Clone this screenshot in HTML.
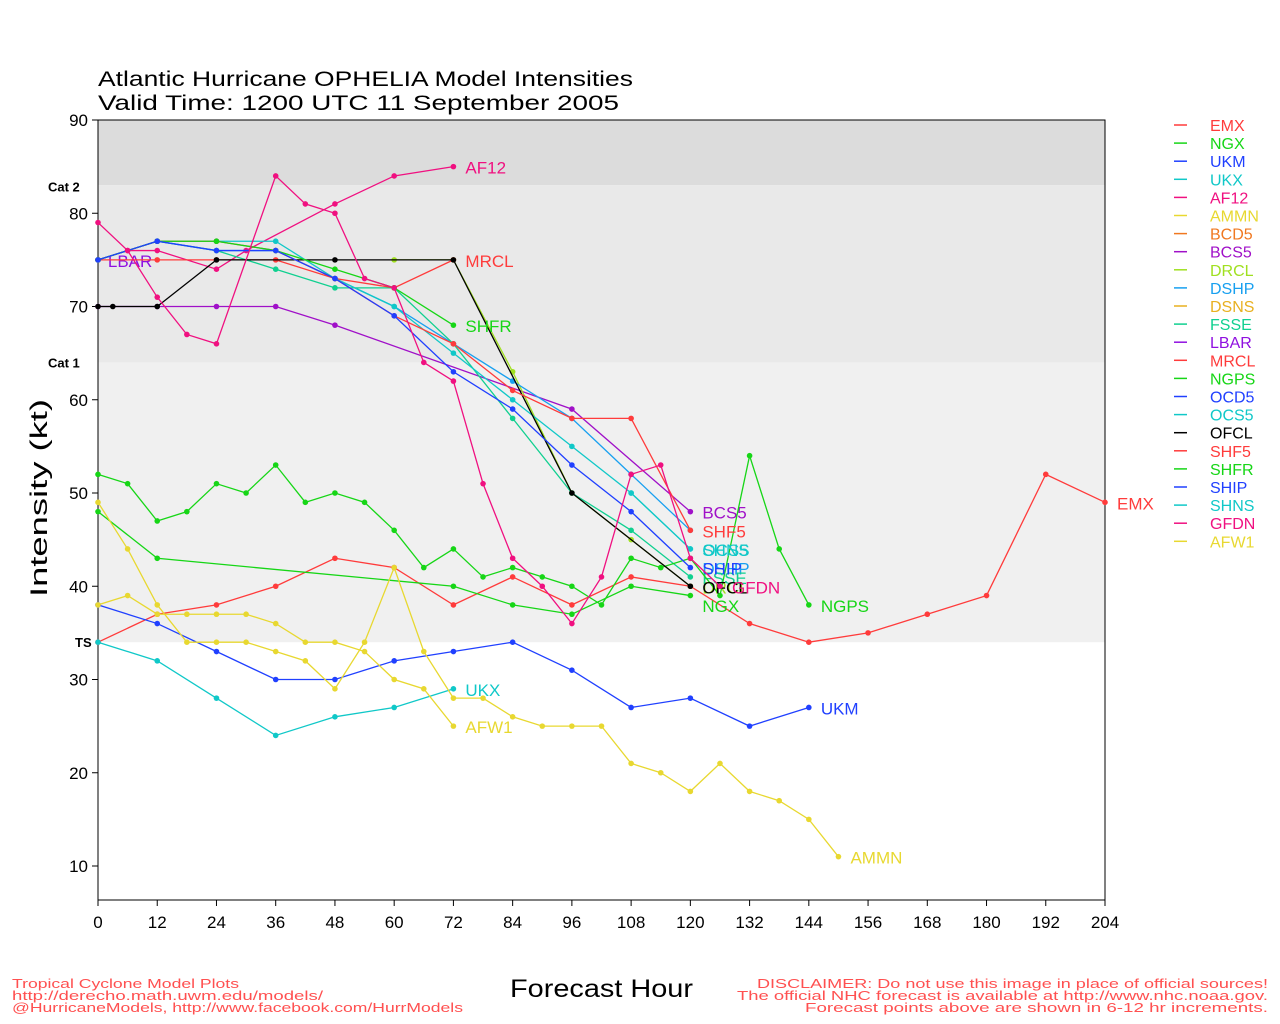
<!DOCTYPE html>
<html><head><meta charset="utf-8">
<style>body{margin:0;background:#fff}svg{display:block}text{font-family:"Liberation Sans",sans-serif}</style>
</head><body>
<svg id="s" width="1280" height="1024" xmlns="http://www.w3.org/2000/svg"></svg>
<script>
const X=h=>98+h*1007/204, Y=v=>120+(90-v)*9.325;
let o='';
o+=`<rect x="98" y="120" width="1007" height="${Y(83)-120}" fill="#dcdcdc"/>`;
o+=`<rect x="98" y="${Y(83)}" width="1007" height="${Y(64)-Y(83)}" fill="#e9e9e9"/>`;
o+=`<rect x="98" y="${Y(64)}" width="1007" height="${Y(34)-Y(64)}" fill="#f0f0f0"/>`;
o+=`<rect x="98" y="120" width="1007" height="780" fill="none" stroke="#000" stroke-width="1"/>`;
for(let v=10;v<=90;v+=10){o+=`<line x1="92" x2="98" y1="${Y(v)}" y2="${Y(v)}" stroke="#000"/><text x="88" y="${Y(v)+6}" font-size="17" text-anchor="end">${v}</text>`;}
for(let h=0;h<=204;h+=12){o+=`<line x1="${X(h)}" x2="${X(h)}" y1="900" y2="906" stroke="#000"/><text x="${X(h)}" y="928" font-size="17" text-anchor="middle">${h}</text>`;}
o+=`<text x="48" y="${Y(83)+6}" font-size="13" font-weight="bold">Cat 2</text><text x="48" y="${Y(64)+5}" font-size="13" font-weight="bold">Cat 1</text><text x="75" y="${Y(34)+5}" font-size="13" font-weight="bold">TS</text>`;
o+=`<text x="98" y="86" font-size="21" textLength="535" lengthAdjust="spacingAndGlyphs">Atlantic Hurricane OPHELIA Model Intensities</text><text x="98" y="110" font-size="21" textLength="521" lengthAdjust="spacingAndGlyphs">Valid Time: 1200 UTC 11 September 2005</text>`;
o+=`<text transform="translate(47,498) rotate(-90)" font-size="24" text-anchor="middle" textLength="198" lengthAdjust="spacingAndGlyphs">Intensity (kt)</text>`;
o+=`<text x="510" y="997" font-size="25" textLength="183" lengthAdjust="spacingAndGlyphs">Forecast Hour</text>`;
const S=[
['EMX','#ff3b3b',[[0,34],[12,37],[24,38],[36,40],[48,43],[60,42],[72,38],[84,41],[96,38],[108,41],[120,40],[132,36],[144,34],[156,35],[168,37],[180,39],[192,52],[204,49]]],
['NGX','#16d616',[[0,48],[12,43],[72,40],[84,38],[96,37],[108,40],[120,39]],[120,38]],
['UKM','#2040ff',[[0,38],[12,36],[24,33],[36,30],[48,30],[60,32],[72,33],[84,34],[96,31],[108,27],[120,28],[132,25],[144,27]]],
['UKX','#10c8c8',[[0,34],[12,32],[24,28],[36,24],[48,26],[60,27],[72,29]]],
['AF12','#f01080',[[6,76],[12,76],[24,74],[30,76],[48,81],[60,84],[72,85]]],
['AMMN','#e8d830',[[0,49],[6,44],[12,38],[18,34],[24,34],[30,34],[36,33],[42,32],[48,29],[54,34],[60,42],[66,33],[72,28],[78,28],[84,26],[90,25],[96,25],[102,25],[108,21],[114,20],[120,18],[126,21],[132,18],[138,17],[144,15],[150,11]]],
['BCD5','#f07820',[]],
['BCS5','#a010c8',[[0,70],[12,70],[24,70],[36,70],[48,68],[96,59],[120,48]]],
['DRCL','#a0e020',[[60,75],[72,75],[84,63],[96,50],[108,45],[120,40]]],
['DSHP','#18a0f0',[[0,75],[12,77],[24,76],[36,76],[48,73],[60,70],[72,66],[84,62],[96,58],[108,52],[120,46]],[120,42]],
['DSNS','#e8b020',[]],
['FSSE','#10d090',[[0,75],[12,77],[24,76],[36,74],[48,72],[60,72],[72,66],[84,58],[96,50],[108,46],[120,41]]],
['LBAR','#9010e0',[[0,75]]],
['MRCL','#ff3b3b',[[0,75],[12,75],[24,75],[36,75],[48,73],[60,72],[72,75]]],
['NGPS','#16d616',[[0,52],[6,51],[12,47],[18,48],[24,51],[30,50],[36,53],[42,49],[48,50],[54,49],[60,46],[66,42],[72,44],[78,41],[84,42],[90,41],[96,40],[102,38],[108,43],[114,42],[120,43],[126,39],[132,54],[138,44],[144,38]]],
['OCD5','#2040ff',[]],
['OCS5','#10c8c8',[[0,75],[12,77],[24,77],[36,77],[48,73],[60,70],[72,65],[84,60],[96,55],[108,50],[120,44]]],
['OFCL','#000000',[[0,70],[3,70],[12,70],[24,75],[48,75],[72,75],[96,50],[120,40]]],
['SHF5','#ff3b3b',[[0,75],[12,77],[24,77],[36,76],[48,73],[60,69],[72,66],[84,61],[96,58],[108,58],[120,46]]],
['SHFR','#16d616',[[0,75],[12,77],[24,77],[36,76],[48,74],[60,72],[72,68]]],
['SHIP','#2040ff',[[0,75],[12,77],[24,76],[36,76],[48,73],[60,69],[72,63],[84,59],[96,53],[108,48],[120,42]]],
['SHNS','#10c8c8',[[108,50],[120,44]]],
['GFDN','#f01080',[[0,79],[6,76],[12,71],[18,67],[24,66],[36,84],[42,81],[48,80],[54,73],[60,72],[66,64],[72,62],[78,51],[84,43],[90,40],[96,36],[102,41],[108,52],[114,53],[120,43],[126,40]]],
['AFW1','#e8d830',[[0,38],[6,39],[12,37],[18,37],[24,37],[30,37],[36,36],[42,34],[48,34],[54,33],[60,30],[66,29],[72,25]]]
];
S.forEach((s,i)=>{const [n,c,p,lp]=s;
 if(p.length>1)o+=`<polyline fill="none" stroke="${c}" stroke-width="1.3" points="${p.map(q=>X(q[0])+','+Y(q[1])).join(' ')}"/>`;
 p.forEach(q=>o+=`<circle cx="${X(q[0])}" cy="${Y(q[1])}" r="2.8" fill="${c}"/>`);
 if(p.length){const l=lp||p[p.length-1];const lx=n=='LBAR'?X(2):X(l[0])+12;o+=`<text x="${lx}" y="${Y(l[1])+7}" font-size="17" fill="${c}">${n}</text>`;}
 const ly=125+i*18.1;o+=`<line x1="1174" x2="1187" y1="${ly}" y2="${ly}" stroke="${c}" stroke-width="1.5"/><text x="1210" y="${ly+6}" font-size="16" fill="${c}">${n}</text>`;
});
const ta=(x,y,t,w,a)=>`<text x="${x}" y="${y}" textLength="${w}" lengthAdjust="spacingAndGlyphs">${t}</text>`;
o+=`<g font-size="13" fill="#ff5050">`+ta(12,988,'Tropical Cyclone Model Plots',227)+ta(12,1000,'http://derecho.math.uwm.edu/models/',311)+ta(12,1012,'@HurricaneModels, http://www.facebook.com/HurrModels',451)
+ta(757,988,'DISCLAIMER: Do not use this image in place of official sources!',511)+ta(737,1000,'The official NHC forecast is available at http://www.nhc.noaa.gov.',531)+ta(805,1012,'Forecast points above are shown in 6-12 hr increments.',463)+`</g>`;
document.getElementById('s').innerHTML=o;
</script>
</body></html>
